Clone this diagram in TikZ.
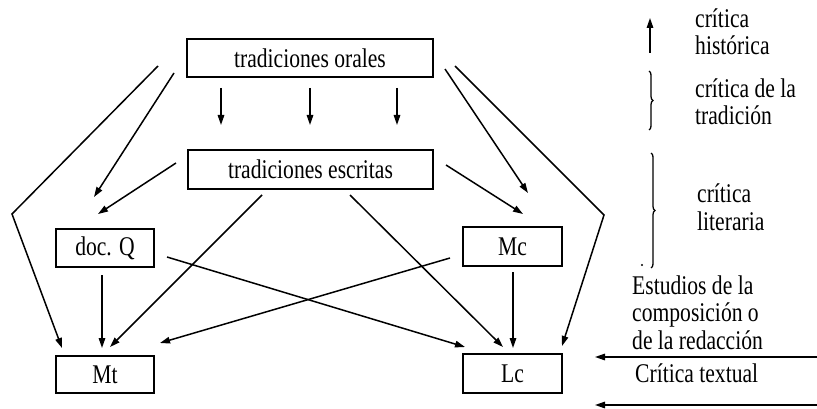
\documentclass[tikz,border=0pt]{standalone}
\usepackage{fontspec}
\setmainfont[FakeStretch=0.8]{Liberation Serif}
\usetikzlibrary{arrows.meta,decorations.pathreplacing}
\begin{document}
\begin{tikzpicture}[x=1pt,y=-1pt,
  every node/.style={font=\fontsize{27}{27.5}\selectfont},
  box/.style={draw,line width=1.6pt,inner sep=0pt,anchor=center},
  arr/.style={line width=1.5pt,-{Triangle[length=10pt,width=6.5pt]}},
  lab/.style={anchor=base west,align=left,inner sep=0pt},
  brc/.style={line width=1.3pt,decorate,decoration={brace,amplitude=4pt}}]
\useasboundingbox (0,0) rectangle (817,409);
% boxes
\node[box,minimum width=246pt,minimum height=38pt] (orales) at (310,58) {tradiciones orales};
\node[box,minimum width=245pt,minimum height=39pt] (escritas) at (310.5,169.5) {tradiciones escritas};
\node[box,minimum width=98pt,minimum height=38pt] (docq) at (105,248) {doc. Q};
\node[box,minimum width=98pt,minimum height=37pt] (mt) at (105,374.5) {Mt};
\node[box,minimum width=99pt,minimum height=39pt] (mc) at (512.5,246.5) {Mc};
\node[box,minimum width=99pt,minimum height=39pt] (lc) at (512.5,373.5) {Lc};
% coordinates
\coordinate (a1) at (158,66); \coordinate (a1b) at (12,214); \coordinate (a1e) at (62,348);
\coordinate (a2) at (174,73); \coordinate (a2e) at (94,197);
\coordinate (a3) at (176,163); \coordinate (a3e) at (98,214);
\coordinate (a4) at (262,195); \coordinate (a4e) at (110,347);
\coordinate (a5) at (350,195); \coordinate (a5e) at (503,347);
\coordinate (a6) at (167,257); \coordinate (a6e) at (465,347);
\coordinate (a7) at (450,258); \coordinate (a7e) at (160,343);
\coordinate (a8) at (102,275); \coordinate (a8e) at (102,348);
\coordinate (a9) at (513,272); \coordinate (a9e) at (513,348);
\coordinate (a10) at (445,69); \coordinate (a10e) at (528,193);
\coordinate (a11) at (446,165); \coordinate (a11e) at (523,214);
\coordinate (a12) at (455,66); \coordinate (a12b) at (604,215); \coordinate (a12e) at (562,346);
\coordinate (v1) at (221,88); \coordinate (v1e) at (221,125);
\coordinate (v2) at (310,88); \coordinate (v2e) at (310,125);
\coordinate (v3) at (397,88); \coordinate (v3e) at (397,125);
% connectors
\draw[arr] (a1) -- (a1b) -- (a1e);
\draw[arr] (a2) -- (a2e);
\draw[arr] (a3) -- (a3e);
\draw[arr] (a4) -- (a4e);
\draw[arr] (a5) -- (a5e);
\draw[arr] (a6) -- (a6e);
\draw[arr] (a7) -- (a7e);
\draw[arr] (a8) -- (a8e);
\draw[arr] (a9) -- (a9e);
\draw[arr] (a10) -- (a10e);
\draw[arr] (a11) -- (a11e);
\draw[arr] (a12) -- (a12b) -- (a12e);
\draw[arr] (v1) -- (v1e);
\draw[arr] (v2) -- (v2e);
\draw[arr] (v3) -- (v3e);
% legend
\coordinate (h1) at (650,53); \coordinate (h1e) at (650,18);
\draw[arr] (h1) -- (h1e);
\node[lab] (hist) at (695,55) {crítica\\histórica};
\coordinate (b1) at (649,71); \coordinate (b1e) at (649,130);
\draw[brc] (b1) -- (b1e);
\node[lab] (trad) at (695,125) {crítica de la\\tradición};
\coordinate (b2) at (651,153); \coordinate (b2e) at (651,268);
\draw[brc] (b2) -- (b2e);
\fill (642,265) circle (1.1pt);
\node[lab] (lit) at (697,230) {crítica\\literaria};
\node[lab] (comp) at (632,349) {Estudios de la\\composición o\\de la redacción};
\coordinate (r1) at (817,357); \coordinate (r1e) at (595,357);
\draw[arr] (r1) -- (r1e);
\node[lab] (text) at (635,382) {Crítica textual};
\coordinate (r2) at (817,405); \coordinate (r2e) at (595,405);
\draw[arr] (r2) -- (r2e);
\end{tikzpicture}
\end{document}
